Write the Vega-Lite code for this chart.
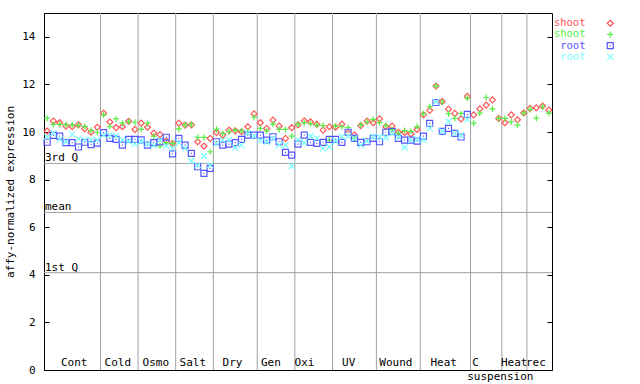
{
  "$schema": "https://vega.github.io/schema/vega-lite/v6.json",
  "width": 508,
  "height": 357,
  "autosize": {"type": "none"},
  "padding": {"left": 44, "top": 13, "right": 88, "bottom": 14},
  "background": "white",
  "config": {
    "view": {"stroke": "black", "strokeWidth": 1},
    "font": "DejaVu Sans Mono"
  },
  "datasets": {
    "samples": [
      {"i":0,"shoot_a":10.04,"shoot_b":10.58,"root_a":9.57,"root_b":9.80},
      {"i":1,"shoot_a":10.46,"shoot_b":10.32,"root_a":9.86,"root_b":9.95},
      {"i":2,"shoot_a":10.39,"shoot_b":10.32,"root_a":9.83,"root_b":9.69},
      {"i":3,"shoot_a":10.25,"shoot_b":10.30,"root_a":9.55,"root_b":9.60},
      {"i":4,"shoot_a":10.22,"shoot_b":10.30,"root_a":9.55,"root_b":9.90},
      {"i":5,"shoot_a":10.30,"shoot_b":10.28,"root_a":9.37,"root_b":9.71},
      {"i":6,"shoot_a":10.14,"shoot_b":10.23,"root_a":9.57,"root_b":9.67},
      {"i":7,"shoot_a":9.99,"shoot_b":10.07,"root_a":9.47,"root_b":9.67},
      {"i":8,"shoot_a":10.20,"shoot_b":9.99,"root_a":9.53,"root_b":9.67},
      {"i":9,"shoot_a":10.79,"shoot_b":10.72,"root_a":9.97,"root_b":9.87},
      {"i":10,"shoot_a":10.42,"shoot_b":10.23,"root_a":9.73,"root_b":9.87},
      {"i":11,"shoot_a":10.18,"shoot_b":10.55,"root_a":9.69,"root_b":9.83},
      {"i":12,"shoot_a":10.22,"shoot_b":10.37,"root_a":9.45,"root_b":9.67},
      {"i":13,"shoot_a":10.45,"shoot_b":10.43,"root_a":9.69,"root_b":9.60},
      {"i":14,"shoot_a":10.11,"shoot_b":10.41,"root_a":9.69,"root_b":9.50},
      {"i":15,"shoot_a":10.37,"shoot_b":10.11,"root_a":9.67,"root_b":9.60},
      {"i":16,"shoot_a":10.20,"shoot_b":10.37,"root_a":9.45,"root_b":9.50},
      {"i":17,"shoot_a":9.95,"shoot_b":9.83,"root_a":9.55,"root_b":9.44},
      {"i":18,"shoot_a":9.89,"shoot_b":9.41,"root_a":9.59,"root_b":9.66},
      {"i":19,"shoot_a":9.62,"shoot_b":9.55,"root_a":9.78,"root_b":9.42},
      {"i":20,"shoot_a":9.52,"shoot_b":9.52,"root_a":9.08,"root_b":9.31},
      {"i":21,"shoot_a":10.37,"shoot_b":10.13,"root_a":9.73,"root_b":9.55},
      {"i":22,"shoot_a":10.29,"shoot_b":10.29,"root_a":9.45,"root_b":9.31},
      {"i":23,"shoot_a":10.30,"shoot_b":10.32,"root_a":9.10,"root_b":8.78},
      {"i":24,"shoot_a":9.59,"shoot_b":9.77,"root_a":8.54,"root_b":8.61},
      {"i":25,"shoot_a":9.41,"shoot_b":9.77,"root_a":8.26,"root_b":8.99},
      {"i":26,"shoot_a":9.73,"shoot_b":9.17,"root_a":8.47,"root_b":8.61},
      {"i":27,"shoot_a":9.98,"shoot_b":10.11,"root_a":9.59,"root_b":9.52},
      {"i":28,"shoot_a":9.87,"shoot_b":9.94,"root_a":9.45,"root_b":9.66},
      {"i":29,"shoot_a":10.08,"shoot_b":10.01,"root_a":9.49,"root_b":9.66},
      {"i":30,"shoot_a":10.05,"shoot_b":10.08,"root_a":9.55,"root_b":9.35},
      {"i":31,"shoot_a":10.01,"shoot_b":10.05,"root_a":9.69,"root_b":9.45},
      {"i":32,"shoot_a":10.22,"shoot_b":10.01,"root_a":9.87,"root_b":9.95},
      {"i":33,"shoot_a":10.76,"shoot_b":10.62,"root_a":9.87,"root_b":9.83},
      {"i":34,"shoot_a":10.39,"shoot_b":10.15,"root_a":9.87,"root_b":9.64},
      {"i":35,"shoot_a":10.15,"shoot_b":10.05,"root_a":9.66,"root_b":9.59},
      {"i":36,"shoot_a":10.50,"shoot_b":10.33,"root_a":9.80,"root_b":9.73},
      {"i":37,"shoot_a":10.25,"shoot_b":10.11,"root_a":9.59,"root_b":9.45},
      {"i":38,"shoot_a":9.73,"shoot_b":10.11,"root_a":9.14,"root_b":9.45},
      {"i":39,"shoot_a":10.18,"shoot_b":9.83,"root_a":9.03,"root_b":8.57},
      {"i":40,"shoot_a":10.30,"shoot_b":10.33,"root_a":9.49,"root_b":9.66},
      {"i":41,"shoot_a":10.47,"shoot_b":10.39,"root_a":9.87,"root_b":9.55},
      {"i":42,"shoot_a":10.43,"shoot_b":10.35,"root_a":9.56,"root_b":9.83},
      {"i":43,"shoot_a":10.33,"shoot_b":10.29,"root_a":9.52,"root_b":9.73},
      {"i":44,"shoot_a":10.08,"shoot_b":10.27,"root_a":9.56,"root_b":9.31},
      {"i":45,"shoot_a":10.22,"shoot_b":9.66,"root_a":9.69,"root_b":9.38},
      {"i":46,"shoot_a":10.20,"shoot_b":10.25,"root_a":9.69,"root_b":9.62},
      {"i":47,"shoot_a":10.33,"shoot_b":10.22,"root_a":9.56,"root_b":9.80},
      {"i":48,"shoot_a":9.95,"shoot_b":10.19,"root_a":9.99,"root_b":9.83},
      {"i":49,"shoot_a":9.87,"shoot_b":9.75,"root_a":9.73,"root_b":9.73},
      {"i":50,"shoot_a":10.27,"shoot_b":10.29,"root_a":9.56,"root_b":9.45},
      {"i":51,"shoot_a":10.46,"shoot_b":10.43,"root_a":9.59,"root_b":9.62},
      {"i":52,"shoot_a":10.39,"shoot_b":10.53,"root_a":9.73,"root_b":9.80},
      {"i":53,"shoot_a":10.55,"shoot_b":10.39,"root_a":9.59,"root_b":9.80},
      {"i":54,"shoot_a":10.22,"shoot_b":10.27,"root_a":9.99,"root_b":9.77},
      {"i":55,"shoot_a":10.25,"shoot_b":10.10,"root_a":10.02,"root_b":9.94},
      {"i":56,"shoot_a":9.99,"shoot_b":9.95,"root_a":9.73,"root_b":9.80},
      {"i":57,"shoot_a":9.98,"shoot_b":10.06,"root_a":9.66,"root_b":9.35},
      {"i":58,"shoot_a":9.92,"shoot_b":10.03,"root_a":9.66,"root_b":9.66},
      {"i":59,"shoot_a":10.11,"shoot_b":10.23,"root_a":9.62,"root_b":9.70},
      {"i":60,"shoot_a":10.73,"shoot_b":10.77,"root_a":9.83,"root_b":9.66},
      {"i":61,"shoot_a":10.91,"shoot_b":11.07,"root_a":10.36,"root_b":10.16},
      {"i":62,"shoot_a":11.93,"shoot_b":11.93,"root_a":11.24,"root_b":11.26},
      {"i":63,"shoot_a":11.28,"shoot_b":11.26,"root_a":10.03,"root_b":10.03},
      {"i":64,"shoot_a":10.96,"shoot_b":10.77,"root_a":10.15,"root_b":10.44},
      {"i":65,"shoot_a":10.78,"shoot_b":10.58,"root_a":9.94,"root_b":9.94},
      {"i":66,"shoot_a":10.55,"shoot_b":10.78,"root_a":9.79,"root_b":9.87},
      {"i":67,"shoot_a":11.50,"shoot_b":11.42,"root_a":10.74,"root_b":10.53},
      {"i":68,"shoot_a":10.72,"shoot_b":10.37},
      {"i":69,"shoot_a":10.97,"shoot_b":10.79},
      {"i":70,"shoot_a":11.13,"shoot_b":11.45},
      {"i":71,"shoot_a":11.35,"shoot_b":10.97},
      {"i":72,"shoot_a":10.57,"shoot_b":10.57},
      {"i":73,"shoot_a":10.39,"shoot_b":10.57},
      {"i":74,"shoot_a":10.72,"shoot_b":10.43},
      {"i":75,"shoot_a":10.51,"shoot_b":10.29},
      {"i":76,"shoot_a":10.80,"shoot_b":10.79},
      {"i":77,"shoot_a":10.99,"shoot_b":10.95},
      {"i":78,"shoot_a":11.02,"shoot_b":10.58},
      {"i":79,"shoot_a":11.09,"shoot_b":11.06},
      {"i":80,"shoot_a":10.92,"shoot_b":10.79}
    ],
    "bounds": [
      {"b":8.5},{"b":14.5},{"b":20.5},{"b":26.5},{"b":33.5},{"b":39.5},
      {"b":45.5},{"b":52.5},{"b":59.5},{"b":67.5},{"b":72.5},{"b":76.5}
    ],
    "refs": [
      {"v":8.68,"name":"3rd Q"},
      {"v":6.62,"name":"mean"},
      {"v":4.09,"name":"1st Q"}
    ],
    "groups": [
      {"x":4.31,"label":"Cont"},
      {"x":11.27,"label":"Cold"},
      {"x":17.33,"label":"Osmo"},
      {"x":23.23,"label":"Salt"},
      {"x":29.56,"label":"Dry"},
      {"x":35.67,"label":"Gen"},
      {"x":41.04,"label":"Oxi"},
      {"x":48.08,"label":"UV"},
      {"x":55.6,"label":"Wound"},
      {"x":63.23,"label":"Heat"},
      {"x":68.3,"label":"C"},
      {"x":74.47,"label":"Heat"},
      {"x":77.92,"label":"rec"}
    ],
    "groups2": [
      {"x":72.26,"label":"suspension"}
    ]
  },
  "resolve": {"axis": {"y": "independent"}},
  "layer": [
    {
      "data": {"name": "bounds"},
      "mark": {"type": "rule", "color": "#a0a0a0", "strokeWidth": 1},
      "encoding": {
        "x": {"field": "b", "type": "quantitative", "scale": {"domain": [-0.5, 80.5], "nice": false, "zero": false}, "axis": null}
      }
    },
    {
      "data": {"name": "refs"},
      "mark": {"type": "rule", "color": "#a0a0a0", "strokeWidth": 1},
      "encoding": {
        "y": {"field": "v", "type": "quantitative", "scale": {"domain": [0, 15], "nice": false},
          "axis": {"orient": "right", "values": [0,2,4,6,8,10,12,14], "labels": false, "ticks": true, "tickSize": -5, "tickColor": "black", "domain": false, "grid": false, "title": null}}
      }
    },
    {
      "data": {"name": "refs"},
      "mark": {"type": "text", "align": "left", "baseline": "alphabetic", "dx": 1, "dy": -2, "fontSize": 11, "color": "black", "font": "DejaVu Sans Mono"},
      "encoding": {
        "x": {"datum": -0.5, "type": "quantitative", "scale": {"domain": [-0.5, 80.5], "nice": false, "zero": false}, "axis": null},
        "y": {"field": "v", "type": "quantitative", "scale": {"domain": [0, 15], "nice": false}, "axis": null},
        "text": {"field": "name"}
      }
    },
    {
      "data": {"name": "samples"},
      "transform": [
        {"fold": ["shoot_a", "shoot_b", "root_a", "root_b"], "as": ["series", "value"]},
        {"filter": "isValid(datum.value)"}
      ],
      "mark": {"type": "point", "filled": false, "size": 36, "strokeWidth": 1.2, "opacity": 1},
      "encoding": {
        "x": {"field": "i", "type": "quantitative", "scale": {"domain": [-0.5, 80.5], "nice": false, "zero": false}, "axis": null},
        "y": {"field": "value", "type": "quantitative", "scale": {"domain": [0, 15], "nice": false},
          "axis": {"orient": "left", "values": [0,2,4,6,8,10,12,14], "format": "d", "grid": false,
            "domainColor": "black", "tickColor": "black", "tickSize": -5, "labelPadding": 14,
            "labelFont": "DejaVu Sans Mono", "labelFontSize": 11, "labelColor": "black",
            "title": "affy-normalized expression", "titleFont": "DejaVu Sans Mono", "titleFontSize": 11,
            "titleFontWeight": "normal", "titleColor": "black", "titleX": -34, "titleY": 178.5,
            "titleAngle": -90, "titleAlign": "center", "titleBaseline": "middle"}},
        "color": {"field": "series", "type": "nominal",
          "scale": {"domain": ["shoot_a", "shoot_b", "root_a", "root_b"], "range": ["#ff5555", "#55ee44", "#5555ff", "#77ffff"]},
          "legend": {"orient": "none", "legendX": 561, "legendY": 5, "direction": "vertical", "title": null, "padding": 0, "rowPadding": -0.8,
            "labelAlign": "right", "labelOffset": -30, "symbolOffset": 0, "labelFont": "DejaVu Sans Mono", "labelFontSize": 10.5,
            "labelColor": {"expr": "scale('color', datum.value)"},
            "labelExpr": "split(datum.label, '_')[0]", "symbolSize": 36, "symbolStrokeWidth": 1.2}},
        "shape": {"field": "series", "type": "nominal",
          "scale": {"domain": ["shoot_a", "shoot_b", "root_a", "root_b"], "range": ["diamond", "M0,-1V1M-1,0H1", "M-1,-1H1V1H-1ZM-0.17,0H0.17", "M-1,-1L1,1M-1,1L1,-1"]},
          "legend": {"orient": "none", "legendX": 561, "legendY": 5, "direction": "vertical", "title": null, "padding": 0, "rowPadding": -0.8,
            "labelAlign": "right", "labelOffset": -30, "symbolOffset": 0, "labelFont": "DejaVu Sans Mono", "labelFontSize": 10.5,
            "labelColor": {"expr": "scale('color', datum.value)"},
            "labelExpr": "split(datum.label, '_')[0]", "symbolSize": 36, "symbolStrokeWidth": 1.2}}
      }
    },
    {
      "data": {"name": "groups"},
      "mark": {"type": "text", "align": "center", "baseline": "alphabetic", "dy": -4, "fontSize": 11, "color": "black", "font": "DejaVu Sans Mono"},
      "encoding": {
        "x": {"field": "x", "type": "quantitative", "scale": {"domain": [-0.5, 80.5], "nice": false, "zero": false}, "axis": null},
        "y": {"datum": 0, "type": "quantitative", "scale": {"domain": [0, 15], "nice": false}, "axis": null},
        "text": {"field": "label"}
      }
    },
    {
      "data": {"name": "groups2"},
      "mark": {"type": "text", "align": "center", "baseline": "alphabetic", "dy": 10, "fontSize": 11, "color": "black", "font": "DejaVu Sans Mono"},
      "encoding": {
        "x": {"field": "x", "type": "quantitative", "scale": {"domain": [-0.5, 80.5], "nice": false, "zero": false}, "axis": null},
        "y": {"datum": 0, "type": "quantitative", "scale": {"domain": [0, 15], "nice": false}, "axis": null},
        "text": {"field": "label"}
      }
    }
  ]
}
